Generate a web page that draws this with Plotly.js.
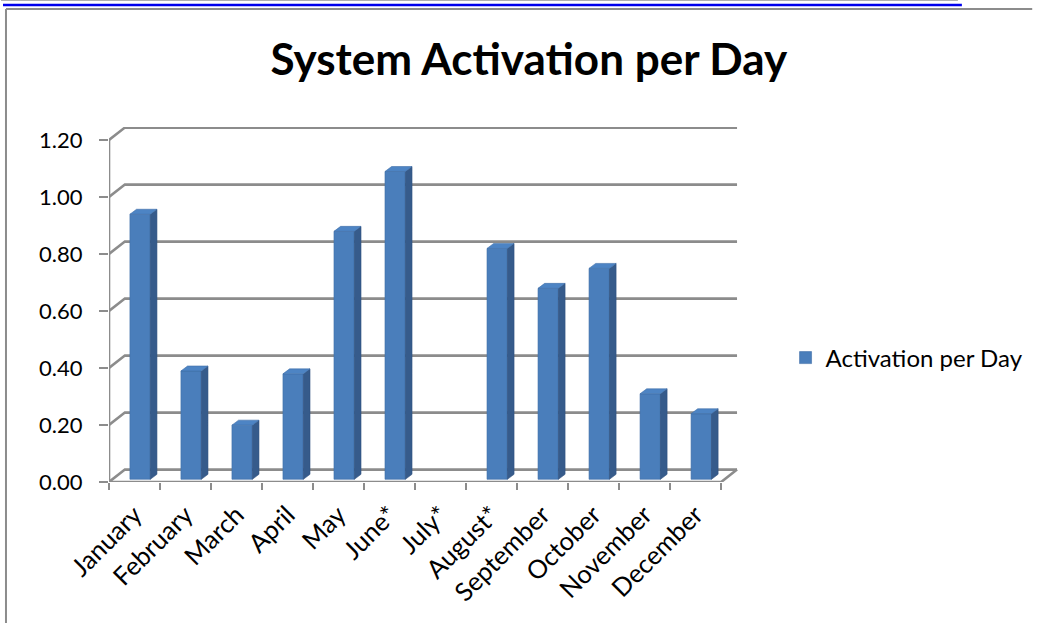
<!DOCTYPE html>
<html>
<head>
<meta charset="utf-8">
<script src="https://cdn.plot.ly/plotly-3.0.1.min.js"></script>
<style>html,body{margin:0;padding:0;background:#fff;}#chart{width:1041px;height:623px;}</style>
</head>
<body>
<div id="chart"></div>
<script>
// ---- data ----
var months = ["January","February","March","April","May","June*","July*","August*","September","October","November","December"];
var activationPerDay = [0.93, 0.38, 0.19, 0.37, 0.87, 1.08, null, 0.81, 0.67, 0.74, 0.30, 0.23];
var yTickValues = [0, 0.2, 0.4, 0.6, 0.8, 1.0, 1.2];
var yTickLabels = ["0.00","0.20","0.40","0.60","0.80","1.00","1.20"];
var seriesName = "Activation per Day";
var chartTitle = "System Activation per Day";

// ---- 3D look parameters (style only) ----
var n = months.length;
var xs = months.map(function(_, i){ return i; });
var backDx = 0.311, backDy = 0.0435;   // back wall offset in axis units
var barOff = -0.09, barW = 0.40;        // front face
var depDx = 0.13, depDy = 0.0175;       // bar depth
var barBase = 0.0095;
var gridColor = "#8c8c8c", gridW = 2.6;
var xMin = -0.5, xMax = n - 0.5;
var yTop = yTickValues[yTickValues.length - 1];

// back wall gridlines + left diagonals + floor
var gx = [], gy = [];
yTickValues.forEach(function(v){
  gx.push(xMin, xMin + backDx, xMax + backDx, null);
  gy.push(v, v + backDy, v + backDy, null);
});
// front floor edge and right diagonal
gx.push(xMin, xMax, xMax + backDx, null);
gy.push(0, 0, backDy, null);
// front vertical axis line
gx.push(xMin, xMin, null);
gy.push(0, yTop, null);

// bar side and top faces
var sx = [], sy = [], tx = [], ty = [];
xs.forEach(function(x, i){
  var v = activationPerDay[i];
  if (v === null) return;
  var xl = x + barOff, xr = xl + barW;
  var b = barBase, t = barBase + v;
  sx.push(xr, xr + depDx, xr + depDx, xr, xr, null);
  sy.push(b, b + depDy, t + depDy, t, b, null);
  tx.push(xl, xl + depDx, xr + depDx, xr, xl, null);
  ty.push(t, t + depDy, t + depDy, t, t, null);
});

var boundaries = [];
for (var k = 0; k <= n; k++) boundaries.push(k - 0.5);

var font = "Lato, 'Open Sans', sans-serif";
var xRange = [xMin, xMin + 636/51.5];
var yRange = [0, 355/285];

var traces = [
  {type:"scatter", mode:"lines", x:gx, y:gy, xaxis:"x", yaxis:"y",
   line:{color:gridColor, width:gridW}, hoverinfo:"skip", showlegend:false, cliponaxis:false},
  {type:"bar", x:xs, y:activationPerDay, base:barBase, offset:barOff, width:barW,
   xaxis:"x3", yaxis:"y3", name:seriesName,
   marker:{color:"#4a7ebb", line:{color:"#3f6ea8", width:0.6}}},
  {type:"scatter", mode:"lines", x:sx, y:sy, xaxis:"x3", yaxis:"y3", fill:"toself",
   fillcolor:"#365b8b", line:{color:"#2f5180", width:0.6}, hoverinfo:"skip", showlegend:false, cliponaxis:false},
  {type:"scatter", mode:"lines", x:tx, y:ty, xaxis:"x3", yaxis:"y3", fill:"toself",
   fillcolor:"#4d84c4", line:{color:"#3f6ea8", width:0.6}, hoverinfo:"skip", showlegend:false, cliponaxis:false}
];

var layout = {
  width:1041, height:623,
  margin:{l:109, r:296, t:127, b:141},
  paper_bgcolor:"#ffffff", plot_bgcolor:"rgba(0,0,0,0)",
  font:{family:font, size:22, color:"#000"},
  title:{text:chartTitle, font:{family:font, size:44, weight:"bold", color:"#000"},
         x:0.508, xanchor:"center", y:0.905, yanchor:"middle", xref:"container", yref:"container"},
  showlegend:true,
  legend:{x:(792-109)/636, y:(482-358)/355, xanchor:"left", yanchor:"middle",
          font:{family:font, size:24, color:"#000"}, bgcolor:"rgba(0,0,0,0)"},
  bargap:0,
  xaxis:{range:xRange, tickmode:"array", tickvals:boundaries, showticklabels:false,
         ticks:"outside", ticklen:7, tickwidth:2.5, tickcolor:gridColor,
         showgrid:false, zeroline:false, showline:false, fixedrange:true},
  yaxis:{range:yRange, tickmode:"array", tickvals:yTickValues, ticktext:yTickLabels,
         ticks:"outside", ticklen:9, tickwidth:2.5, tickcolor:gridColor, ticklabelstandoff:12,
         tickfont:{family:font, size:22, color:"#000"},
         showgrid:false, zeroline:false, showline:false, fixedrange:true},
  xaxis3:{overlaying:"x", anchor:"y3", range:xRange, tickmode:"array", tickvals:xs, ticktext:months,
          tickangle:-45, ticks:"", ticklabelstandoff:12, tickfont:{family:font, size:25.5, color:"#000"},
          showgrid:false, zeroline:false, showline:false, fixedrange:true},
  yaxis3:{overlaying:"y", anchor:"x3", range:yRange, visible:false, showgrid:false, zeroline:false, fixedrange:true},
  shapes:[
    {type:"line", xref:"paper", yref:"paper", x0:(0-109)/636, x1:(966-109)/636, y0:(482-0.5)/355, y1:(482-0.5)/355, line:{color:"#b0b0b0", width:1}},
    {type:"line", xref:"paper", yref:"paper", x0:(2-109)/636, x1:(970-109)/636, y0:(482-5)/355, y1:(482-5)/355, line:{color:"#0000ee", width:2.5}},
    {type:"line", xref:"paper", yref:"paper", x0:(5-109)/636, x1:(1041-109)/636, y0:(482-9)/355, y1:(482-9)/355, line:{color:"#8c8c8c", width:2}},
    {type:"line", xref:"paper", yref:"paper", x0:(5-109)/636, x1:(5-109)/636, y0:(482-9)/355, y1:(482-623)/355, line:{color:"#8c8c8c", width:2}}
  ]
};

Plotly.newPlot("chart", traces, layout, {displayModeBar:false, staticPlot:true});
</script>
</body>
</html>
